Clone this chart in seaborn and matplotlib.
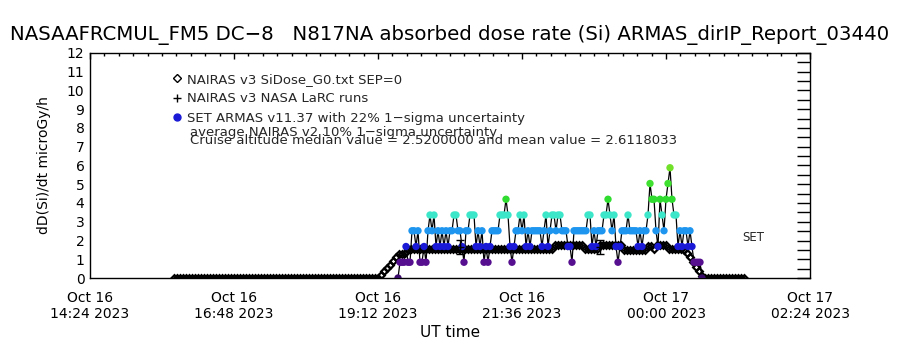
import numpy as np
import pandas as pd
import matplotlib
matplotlib.use('Agg')
import matplotlib.pyplot as plt
import matplotlib.dates as mdates
from matplotlib.lines import Line2D
import seaborn as sns

# NAIRAS v3 SiDose_G0 model, one value every 3 minutes from 15:48 UT
g0_start = '2023-10-16 15:48'
g0_zero_before = [0.0] * 69
g0_ramp_up = [0.15, 0.35, 0.55, 0.7, 0.9, 1.1, 1.3, 1.3, 1.32, 1.53]
g0_cruise = [1.53, 1.53, 1.53, 1.53, 1.53, 1.53, 1.53, 1.53, 1.53, 1.53, 1.53, 1.53,
             1.53, 1.53, 1.53, 1.53, 1.53, 1.53, 1.53, 1.53, 1.53, 1.53, 1.53, 1.53,
             1.53, 1.53, 1.53, 1.53, 1.53, 1.53, 1.53, 1.53, 1.53, 1.53, 1.53, 1.53,
             1.53, 1.53, 1.53, 1.53, 1.53, 1.53, 1.53, 1.53, 1.53, 1.53, 1.53, 1.53,
             1.76, 1.76, 1.76, 1.76, 1.76, 1.76, 1.76, 1.76, 1.76, 1.76,
             1.53, 1.53, 1.53, 1.53, 1.53,
             1.76, 1.76, 1.76, 1.76, 1.76, 1.76, 1.76, 1.76,
             1.52, 1.52, 1.52, 1.52, 1.52, 1.52, 1.52, 1.52,
             1.72, 1.72, 1.55, 1.76, 1.76, 1.76, 1.76,
             1.53, 1.53, 1.53, 1.53, 1.53]
g0_ramp_down = [1.5, 1.35, 1.1, 0.85, 0.6, 0.35, 0.1]
g0_zero_after = [0.0] * 14

# SET ARMAS measurements, one value every 2 minutes from 19:32 UT (quantised levels)
armas_start = '2023-10-16 19:32'
armas_levels = [0.0, 0.84, 1.68, 2.52, 3.36, 4.20, 5.04, 5.88]
armas_idx = [0, 1, 1, 1, 2, 1, 1, 3, 3, 2, 3, 1, 1, 2, 1, 3, 4, 3, 4, 2, 3, 2, 3, 2,
             3, 2, 3, 3, 4, 4, 3, 3, 2, 1, 3, 3, 4, 4, 4, 2, 3, 2, 3, 1, 2, 1, 2, 3,
             3, 3, 3, 4, 4, 4, 5, 4, 2, 1, 2, 3, 3, 4, 3, 4, 2, 3, 2, 3, 3, 3, 3, 3,
             2, 3, 4, 2, 3, 4, 4, 3, 4, 4, 3, 3, 3, 2, 2, 1, 3, 3, 3, 3, 3, 3, 3, 4,
             4, 2, 3, 2, 3, 3, 3, 4, 4, 5, 4, 3, 4, 2, 1, 2, 3, 3, 3, 4, 3, 3, 3, 3,
             2, 3, 2, 3, 3, 4, 6, 5, 5, 3, 2, 5, 4, 3, 5, 6, 7, 5, 4, 4, 2, 3, 2, 3,
             3, 2, 3, 2, 1, 1, 1, 1, 0]
armas_colors = ['#3a0a6a', '#560f8f', '#1a1ad6', '#1e96f0', '#3ce6c8',
                '#30dc30', '#40e030', '#70e028']

# NAIRAS v3 NASA LaRC runs with average NAIRAS v2 uncertainty
larc_times = ['2023-10-16 20:34', '2023-10-16 22:54']
larc_values = [1.65, 1.65]
larc_err = [0.36, 0.36]

title = 'NASAAFRCMUL_FM5 DC\u22128   N817NA absorbed dose rate (Si) ARMAS_dirIP_Report_03440'
legend_labels = ['NAIRAS v3 SiDose_G0.txt SEP=0',
                 'NAIRAS v3 NASA LaRC runs',
                 'SET ARMAS v11.37 with 22% 1\u2212sigma uncertainty']
note_lines = ['average NAIRAS v2 10% 1\u2212sigma uncertainty',
              'Cruise altitude median value = 2.5200000 and mean value = 2.6118033']

g0_values = g0_zero_before + g0_ramp_up + g0_cruise + g0_ramp_down + g0_zero_after
g0 = pd.DataFrame({'time': pd.date_range(g0_start, periods=len(g0_values), freq='3min'),
                   'dose': g0_values})
armas = pd.DataFrame({'time': pd.date_range(armas_start, periods=len(armas_idx), freq='2min'),
                      'level': armas_idx})
armas['dose'] = [armas_levels[i] for i in armas['level']]

sns.set_theme(style='white')
plt.rcParams['font.family'] = ['DejaVu Sans']

fig = plt.figure(figsize=(9, 3.5), dpi=100)
ax = fig.add_axes([0.1, 0.2057, 0.8, 0.6429])

sns.lineplot(data=armas, x='time', y='dose', estimator=None, sort=False,
             color='black', lw=0.9, ax=ax)
sns.lineplot(data=g0, x='time', y='dose', estimator=None, sort=False,
             marker='D', linestyle='none', mfc='none', mec='black', ms=3.4, mew=1.6,
             color='black', ax=ax)
sns.scatterplot(data=armas, x='time', y='dose', hue='level',
                palette=dict(enumerate(armas_colors)), s=28, linewidth=0,
                legend=False, ax=ax, zorder=3)
ax.errorbar(pd.to_datetime(larc_times), larc_values, yerr=larc_err, fmt='+',
            color='black', ms=6, mew=1, elinewidth=1, capsize=3, zorder=4)

ax.set_xlim(pd.Timestamp('2023-10-16 14:24'), pd.Timestamp('2023-10-17 02:24'))
ax.set_ylim(0, 12)
# 2.4 h major ticks (0.1 day) with 10 minor intervals
ax.xaxis.set_major_locator(plt.MultipleLocator(0.1))
ax.xaxis.set_minor_locator(plt.MultipleLocator(0.01))
ax.xaxis.set_major_formatter(mdates.DateFormatter('%b %d\n%H:%M %Y'))
ax.yaxis.set_major_locator(plt.MultipleLocator(1))
ax.yaxis.set_minor_locator(plt.MultipleLocator(0.5))

for s in ax.spines.values():
    s.set_color('black')
    s.set_linewidth(1)
ax.tick_params(axis='both', which='both', direction='in', top=True, right=True,
               color='black', width=1, labelcolor='black')
ax.tick_params(axis='x', which='major', length=4, pad=9, labelsize=10)
ax.tick_params(axis='x', which='minor', length=2.2)
ax.tick_params(axis='y', which='major', length=9.5, pad=4, labelsize=10)
ax.tick_params(axis='y', which='minor', length=9.5)
ax.set_xlabel('UT time', fontsize=11, color='black', labelpad=3)
ax.set_ylabel('')

fig.text(0.5, 1 - 35 / 350, title, ha='center', va='center', fontsize=14.2, color='black')
fig.text(44 / 900, 1 - 165 / 350, 'dD(Si)/dt microGy/h', rotation=90,
         ha='center', va='center', fontsize=10, color='black')

handles = [Line2D([], [], marker='D', ls='none', mfc='none', mec='black', ms=4, mew=1),
           Line2D([], [], marker='+', ls='none', color='black', ms=6, mew=1),
           Line2D([], [], marker='o', ls='none', color=armas_colors[2], ms=5)]
fig.legend(handles, legend_labels, loc='upper left', bbox_to_anchor=(172 / 900, 1 - 73 / 350),
           frameon=False, fontsize=9.5, handlelength=0.8, handletextpad=0.35,
           labelspacing=0.48, borderpad=0, borderaxespad=0)
fig.text(190 / 900, 1 - 132 / 350, note_lines[0], ha='left', va='center', fontsize=9.5)
fig.text(190 / 900, 1 - 141 / 350, note_lines[1], ha='left', va='center', fontsize=9.5)
ax.text(0.9208, 0.182, 'SET', transform=ax.transAxes, ha='center', va='center', fontsize=8.5)

fig.savefig('out.png', dpi=100, facecolor='white')
